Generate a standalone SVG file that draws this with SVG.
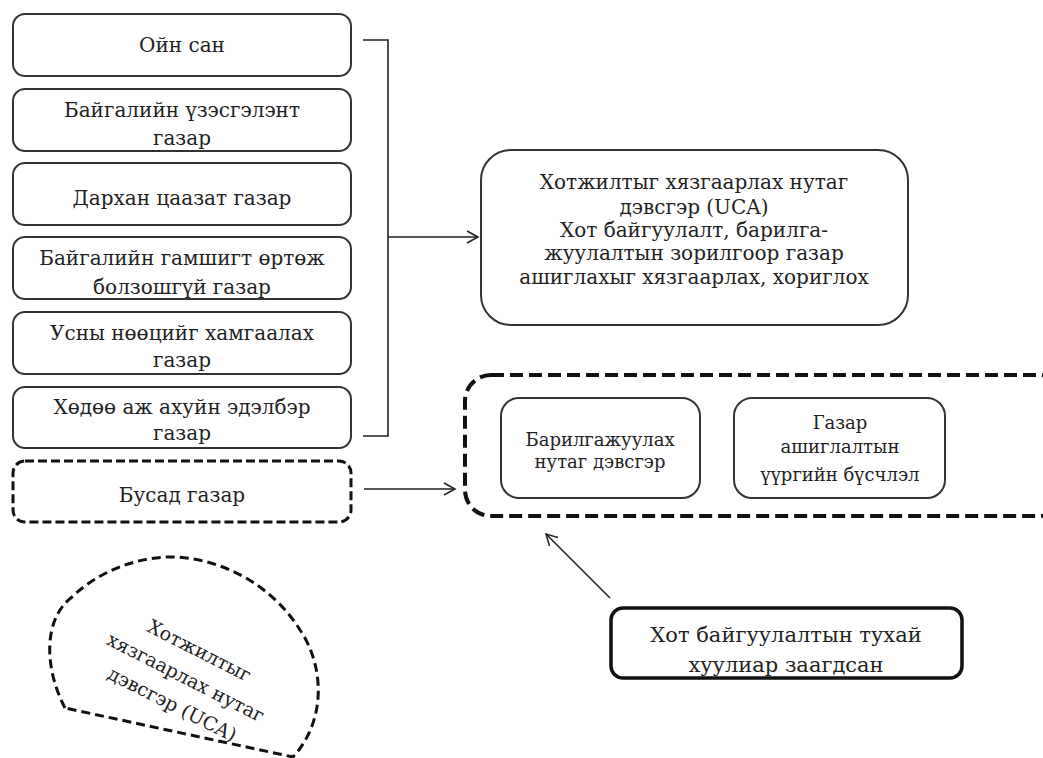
<svg xmlns="http://www.w3.org/2000/svg" width="1043" height="758" viewBox="0 0 1043 758">
<defs>
<marker id="arr" markerWidth="14" markerHeight="14" refX="12" refY="7" orient="auto" markerUnits="userSpaceOnUse">
<path d="M1,1 L12,7 L1,13" fill="none" stroke="#222" stroke-width="1.5"/>
</marker>
<style>
.box{fill:#fff;stroke:#333;stroke-width:2}
.dash{fill:#fff;stroke:#111;stroke-width:3;stroke-dasharray:9 4}
.bigdash{fill:none;stroke:#111;stroke-width:4;stroke-dasharray:13 6}
.thick{fill:#fff;stroke:#111;stroke-width:3.5}
.t{font-family:'DejaVu Serif','Liberation Serif',serif;font-size:20px;fill:#222;text-anchor:middle}
.s{font-size:18px}
.l{font-size:21px}
.b{font-size:19px}
.c{fill:none;stroke:#222;stroke-width:1.6}
</style>
</defs>
<rect width="1043" height="758" fill="#fff"/>

<g id="n1"><rect class="box" x="13" y="14" width="338" height="62" rx="12"/><text class="t" x="182" y="52">Ойн сан</text></g>
<g id="n2"><rect class="box" x="13" y="89" width="338" height="62" rx="12"/><text class="t" x="182" y="117">Байгалийн үзэсгэлэнт</text><text class="t" x="182" y="145">газар</text></g>
<g id="n3"><rect class="box" x="13" y="163" width="338" height="62" rx="12"/><text class="t" x="182" y="205">Дархан цаазат газар</text></g>
<g id="n4"><rect class="box" x="13" y="237" width="338" height="62" rx="12"/><text class="t" x="182" y="265">Байгалийн гамшигт өртөж</text><text class="t" x="182" y="294">болзошгүй газар</text></g>
<g id="n5"><rect class="box" x="13" y="312" width="338" height="62" rx="12"/><text class="t" x="182" y="340">Усны нөөцийг хамгаалах</text><text class="t" x="182" y="367">газар</text></g>
<g id="n6"><rect class="box" x="13" y="387" width="338" height="61" rx="12"/><text class="t" x="182" y="414">Хөдөө аж ахуйн эдэлбэр</text><text class="t" x="182" y="440">газар</text></g>
<g id="n7"><rect class="dash" x="13" y="461" width="338" height="61" rx="12"/><text class="t" x="182" y="502">Бусад газар</text></g>

<g id="uca"><rect class="box" x="481" y="150" width="427" height="175" rx="30"/>
<text class="t" x="694" y="189">Хотжилтыг хязгаарлах нутаг</text>
<text class="t" x="694" y="214">дэвсгэр (UCA)</text>
<text class="t" x="694" y="237">Хот байгуулалт, барилга-</text>
<text class="t" x="694" y="260">жуулалтын зорилгоор газар</text>
<text class="t" x="694" y="284">ашиглахыг хязгаарлах, хориглох</text>
</g>

<g id="zone"><rect class="bigdash" x="465" y="375" width="600" height="141" rx="26"/></g>
<g id="build"><rect class="box" x="501" y="398" width="199" height="100" rx="18"/><text class="t s" x="600" y="446">Барилгажуулах</text><text class="t s" x="600" y="468">нутаг дэвсгэр</text></g>
<g id="use"><rect class="box" x="734" y="398" width="211" height="100" rx="18"/><text class="t s" x="840" y="429">Газар</text><text class="t s" x="840" y="453">ашиглалтын</text><text class="t s" x="840" y="481">үүргийн бүсчлэл</text></g>

<g id="law"><rect class="thick" x="611" y="608" width="351" height="70" rx="12"/><text class="t l" x="786" y="642">Хот байгуулалтын тухай</text><text class="t l" x="786" y="672">хуулиар заагдсан</text></g>

<g id="blob">
<path d="M65,708 C45,670 42,620 72,597 C100,570 140,556 175,557 C230,560 275,590 300,630 C324,665 327,720 293,757 Z" fill="none" stroke="#111" stroke-width="3" stroke-dasharray="9 5"/>
<g transform="translate(186,677) rotate(27)">
<text class="t b" x="0" y="-23">Хотжилтыг</text>
<text class="t b" x="0" y="7">хязгаарлах нутаг</text>
<text class="t b" x="0" y="37">дэвсгэр (UCA)</text>
</g>
</g>

<g id="connectors">
<path class="c" d="M363,40 L388,40 L388,436 L363,436"/>
<line class="c" x1="388" y1="237" x2="478" y2="237" marker-end="url(#arr)"/>
<line class="c" x1="364" y1="489" x2="455" y2="489" marker-end="url(#arr)"/>
<line class="c" x1="610" y1="598" x2="546" y2="534" marker-end="url(#arr)"/>
</g>
</svg>
